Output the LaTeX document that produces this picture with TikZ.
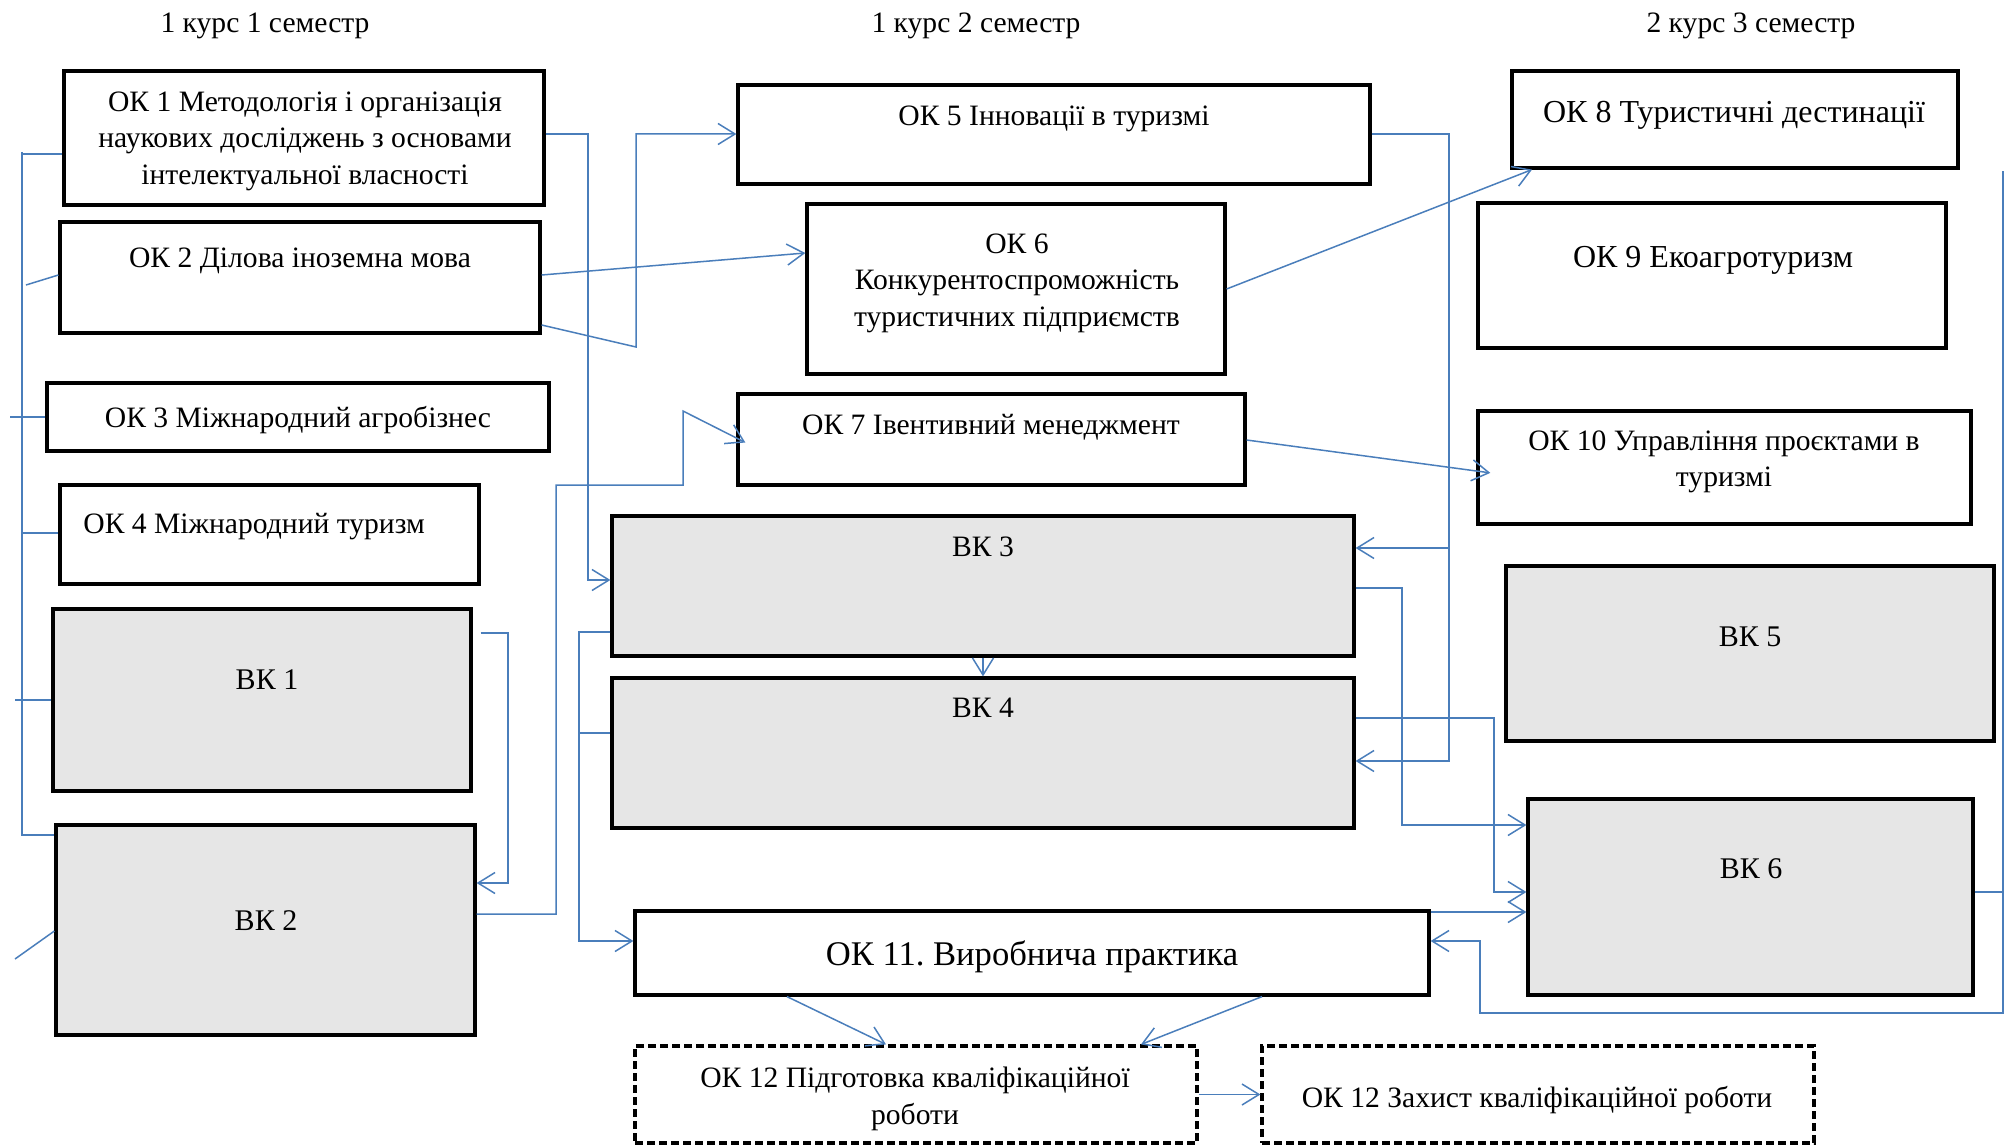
\documentclass[tikz,border=0pt]{standalone}
\usepackage{fontspec}
\setmainfont{Liberation Serif}
\usepackage{tikz}
\usetikzlibrary{arrows.meta,fit}
\definecolor{linkblue}{RGB}{74,126,187}
\definecolor{vkgray}{RGB}{230,230,230}
\frenchspacing

\begin{document}
\begin{tikzpicture}[x=0.5pt, y=-0.5pt,
    box/.style={draw=black, line width=1.6pt, inner sep=0pt},
    okbox/.style={box, fill=white},
    vkbox/.style={box, fill=vkgray},
    exambox/.style={box, dash pattern=on 4pt off 2pt},
    lbl/.style={font=\fontsize{14.8}{18.3}\selectfont, align=center, inner sep=0pt},
    lblbig/.style={lbl, font=\fontsize{16}{19}\selectfont},
    lblvk/.style={lbl, font=\fontsize{15}{18}\selectfont},
    lblpr/.style={lbl, font=\fontsize{17.3}{20}\selectfont},
    link/.style={draw=linkblue, line width=0.75pt},
    >={Straight Barb[length=8.5pt,width=10.5pt]}]
\useasboundingbox (0,0) rectangle (2013,1145);

% Заголовки семестрів
\node[lbl] (sem1) at (265,26) {1 курс 1 семестр};
\node[lbl] (sem2) at (976,26) {1 курс 2 семестр};
\node[lbl] (sem3) at (1751,26) {2 курс 3 семестр};

% 1 семестр
\node[okbox, fit={(64,71) (544,205)}] (ok1) {};
\node[lbl] (ok1t) at (305,141) {ОК 1 Методологія і організація\\наукових досліджень з основами\\інтелектуальної власності};
\node[okbox, fit={(60,222) (540,333)}] (ok2) {};
\node[lbl] (ok2t) at (300,261) {ОК 2 Ділова іноземна мова};
\node[okbox, fit={(47,383) (549,451)}] (ok3) {};
\node[lbl] (ok3t) at (298,420) {ОК 3 Міжнародний агробізнес};
\node[okbox, fit={(60,485) (479,584)}] (ok4) {};
\node[lbl, anchor=west] (ok4t) at (83,527) {ОК 4 Міжнародний туризм};
\node[vkbox, fit={(53,609) (471,791)}] (bk1) {};
\node[lblvk] (bk1t) at (267,680) {ВК 1};
\node[vkbox, fit={(56,825) (475,1035)}] (bk2) {};
\node[lblvk] (bk2t) at (266,921) {ВК 2};

% 2 семестр
\node[okbox, fit={(738,85) (1370,184)}] (ok5) {};
\node[lbl] (ok5t) at (1054,119) {ОК 5 Інновації в туризмі};
\node[okbox, fit={(807,204) (1225,374)}] (ok6) {};
\node[lbl] (ok6t) at (1017,283) {ОК 6\\Конкурентоспроможність\\туристичних підприємств};
\node[okbox, fit={(738,394) (1245,485)}] (ok7) {};
\node[lbl] (ok7t) at (991,427) {ОК 7 Івентивний менеджмент};
\node[vkbox, fit={(612,516) (1354,656)}] (bk3) {};
\node[lbl] (bk3t) at (983,547) {ВК 3};
\node[vkbox, fit={(612,678) (1354,828)}] (bk4) {};
\node[lbl] (bk4t) at (983,708) {ВК 4};
\node[okbox, fit={(635,911) (1429,995)}] (ok11) {};
\node[lblpr] (ok11t) at (1032,957) {ОК 11. Виробнича практика};
\node[exambox, fit={(635,1046) (1197,1143)}] (ok12a) {};
\node[lbl] (ok12at) at (915,1099) {ОК 12 Підготовка кваліфікаційної\\роботи};
\node[exambox, fit={(1262,1046) (1814,1143)}] (ok12b) {};
\node[lbl] (ok12bt) at (1537,1100) {ОК 12 Захист кваліфікаційної роботи};

% 3 семестр
\node[okbox, fit={(1512,71) (1958,168)}] (ok8) {};
\node[lblbig] (ok8t) at (1734,115) {ОК 8 Туристичні дестинації};
\node[okbox, fit={(1478,203) (1946,348)}] (ok9) {};
\node[lblbig] (ok9t) at (1713,260) {ОК 9 Екоагротуризм};
\node[okbox, fit={(1478,411) (1971,524)}] (ok10) {};
\node[lbl] (ok10t) at (1724,462) {ОК 10 Управління проєктами в\\туризмі};
\node[vkbox, fit={(1506,566) (1994,741)}] (bk5) {};
\node[lblvk] (bk5t) at (1750,637) {ВК 5};
\node[vkbox, fit={(1528,799) (1973,995)}] (bk6) {};
\node[lblvk] (bk6t) at (1751,869) {ВК 6};

% Ліва скоба
\coordinate (lft) at (22,152);
\coordinate (lfb) at (22,835);
\coordinate (s2) at (26,285);
\coordinate (s3) at (10,417);
\coordinate (s5) at (15,700);
\coordinate (s6) at (15,959);
\draw[link] (lft) -- (lfb) -- (bk2.north west |- lfb);
\draw[link] (lft |- 0,154) -- (ok1.west |- 0,154);
\draw[link] (s2) -- (ok2.west |- 0,275);
\draw[link] (s3) -- (ok3.west);
\draw[link] (lft |- 0,533) -- (ok4.west |- 0,533);
\draw[link] (s5) -- (bk1.west |- 0,700);
\draw[link] (s6) -- (bk2.west |- 0,931);

% Зв'язки 1 -> 2 семестр
\draw[link,->] (ok1.east |- 0,134) -| (588,580) -- (bk3.west |- 0,580);
\draw[link,->] (ok2.east |- 0,275) -- (ok6.west |- 0,253);
\draw[link,->] (ok2.east |- 0,325) -- (636,347) -- (636,134) -- (ok5.west |- 0,134);
\draw[link,->, shorten >=-5pt] (bk2.east |- 0,914) -| (556,485) -| (683,411) -- (ok7.west |- 0,438);
\draw[link,->, shorten <=4pt] (bk1.east |- 0,633) -| (508,883) -- (bk2.east |- 0,883);

% Зв'язки всередині 2 семестру
\draw[link,->] (ok5.east |- 0,134) -| (1449,761) -- (bk4.east |- 0,761);
\draw[link,->] (1449,548) -- (bk3.east |- 0,548);
\draw[link,->] (bk3) -- (bk4);
\draw[link,->] (bk3.west |- 0,632) -| (579,941) -- (ok11.west |- 0,941);
\draw[link] (579,733) -- (bk4.west |- 0,733);

% Зв'язки 2 -> 3 семестр
\draw[link,->] (ok6.east |- 0,289) -- (ok8.south -| 1532,0);
\draw[link,->, shorten >=-7pt] (ok7.east |- 0,440) -- (ok10.west |- 0,471);
\draw[link,->] (bk3.east |- 0,588) -| (1402,825) -- (bk6.west |- 0,825);
\draw[link,->] (bk4.east |- 0,718) -| (1494,892) -- (bk6.west |- 0,892);
\draw[link,->] (ok11.east |- 0,912) -- (bk6.west |- 0,912);

% Права петля до практики
\coordinate (rtop) at (2003,171);
\draw[link] (bk6.east |- 0,892) -- (rtop |- 0,892);
\draw[link,->] (rtop) |- (1480,1013) |- (ok11.east |- 0,941);

% Атестація
\draw[link,->] (ok11.south -| 787,0) -- (ok12a.north -| 886,0);
\draw[link,->] (ok11.south -| 1262,0) -- (ok12a.north -| 1141,0);
\draw[link,->] (ok12a) -- (ok12b);

\end{tikzpicture}
\end{document}
